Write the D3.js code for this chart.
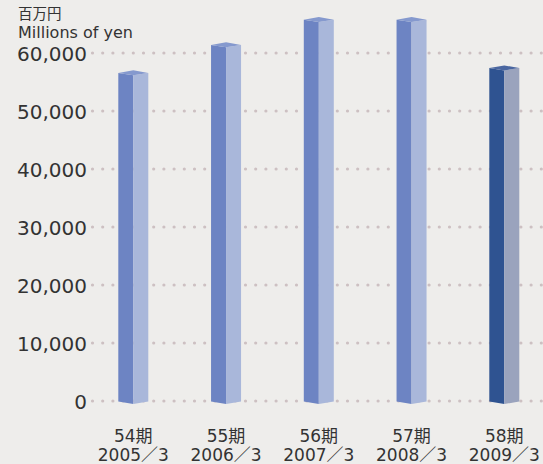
<!DOCTYPE html>
<html><head><meta charset="utf-8">
<script src="https://cdn.jsdelivr.net/npm/d3@7"></script>
<style>
html,body{margin:0;padding:0;background:#eeedeb;}
svg{display:block;}
text{fill:#333;font-family:"DejaVu Sans","Noto Sans CJK JP",sans-serif;}
</style></head>
<body>
<script>
const periods = ["54期","55期","56期","57期","58期"];
const fiscalYears = ["2005／3","2006／3","2007／3","2008／3","2009／3"];
const values = [56550, 61400, 65750, 65750, 57400];
const yTicks = [0,10000,20000,30000,40000,50000,60000];
const unitJa = "百万円";
const unitEn = "Millions of yen";

const W = 543, H = 464;
const svg = d3.select("body").append("svg").attr("width", W).attr("height", H);
svg.append("rect").attr("width", W).attr("height", H).attr("fill", "#eeedeb");

const y = d3.scaleLinear().domain([0, 60000]).range([401, 53]);
const x = d3.scalePoint().domain(periods).range([133.3, 504.3]);

// gridlines (dotted)
svg.append("g").selectAll("line").data(yTicks).join("line")
  .attr("x1", 92.5).attr("x2", W + 5)
  .attr("y1", d => y(d)).attr("y2", d => y(d))
  .attr("stroke", "#cdc0c2").attr("stroke-width", 3.2)
  .attr("stroke-linecap", "round").attr("stroke-dasharray", "0 10.2");

// y axis labels
const yAxis = d3.axisLeft(y).tickValues(yTicks).tickFormat(d3.format(",")).tickSize(0).tickPadding(0);
const ga = svg.append("g").attr("transform", "translate(87,0)").call(yAxis);
ga.select(".domain").remove();
ga.selectAll("text").attr("font-size", 20).attr("font-family", "DejaVu Sans").attr("fill", "#333").attr("dy", "0.36em");

// bars (prism style)
const hw = 15;
const bars = svg.append("g").selectAll("g").data(values).join("g");
const colors = (i) => i === 4
  ? {dark: "#2f5391", light: "#9aa3bd", roof: "#4a66a0"}
  : {dark: "#6d84c3", light: "#a9b7da", roof: "#8599ce"};
bars.each(function(v, i) {
  const g = d3.select(this);
  const c = x(periods[i]);
  const top = y(v), base = y(0);
  const col = colors(i);
  g.append("path").attr("fill", col.dark)
    .attr("d", `M${c-hw},${top} L${c},${top+2.3} L${c},${base+3} L${c-hw},${base+0.5} Z`);
  g.append("path").attr("fill", col.light)
    .attr("d", `M${c},${top+2.3} L${c+hw},${top} L${c+hw},${base+0.5} L${c},${base+3} Z`);
  g.append("path").attr("fill", col.roof)
    .attr("d", `M${c-hw},${top} L${c},${top-2.7} L${c+hw},${top} L${c},${top+2.3} Z`);
});

// x labels
const xl = svg.append("g").selectAll("g").data(periods).join("g")
  .attr("transform", d => `translate(${x(d)},0)`);
xl.append("text").attr("y", 442).attr("text-anchor", "middle").attr("font-size", 17).text(d => d);
xl.append("text").attr("y", 461).attr("text-anchor", "middle").attr("font-size", 17)
  .text((d, i) => fiscalYears[i]);

// unit labels
svg.append("text").attr("x", 18).attr("y", 19).attr("font-size", 14.5)
  .attr("font-family", "Noto Sans CJK JP").text(unitJa);
svg.append("text").attr("x", 18).attr("y", 38).attr("font-size", 16).text(unitEn);
</script>
</body></html>
